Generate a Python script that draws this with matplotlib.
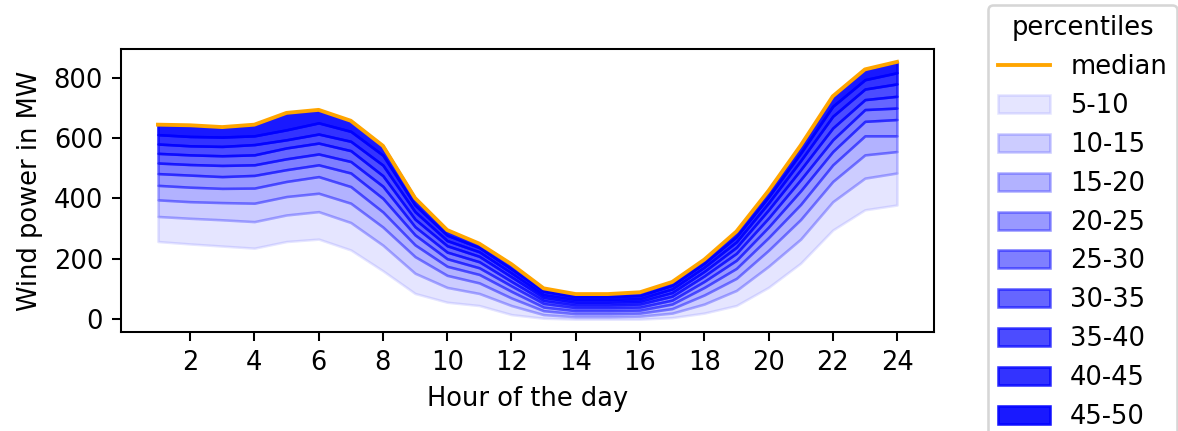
import numpy as np
import matplotlib
matplotlib.use("Agg")
import matplotlib.pyplot as plt

hours = np.arange(1, 25)

# percentile curves (MW)
p5 = [257, 249, 242, 235, 257, 265, 229, 160, 85, 56, 45, 15, 3, 0, 0, 0, 5, 20, 45, 105, 185, 295, 362, 378]
p10 = [340, 334, 329, 323, 345, 356, 320, 245, 152, 105, 85, 45, 15, 8, 8, 10, 20, 50, 95, 175, 265, 389, 467, 484]
p15 = [395, 389, 386, 384, 406, 417, 384, 305, 207, 145, 120, 70, 28, 18, 18, 20, 35, 80, 135, 228, 330, 456, 544, 555]
p20 = [443, 437, 433, 434, 456, 472, 439, 355, 246, 175, 148, 92, 40, 28, 28, 30, 50, 105, 168, 270, 380, 511, 607, 607]
p25 = [482, 477, 472, 476, 495, 511, 484, 400, 279, 200, 170, 110, 52, 38, 38, 40, 63, 125, 195, 305, 425, 555, 655, 661]
p30 = [517, 512, 509, 511, 531, 547, 522, 440, 306, 222, 190, 125, 62, 47, 47, 50, 76, 143, 218, 335, 462, 594, 694, 699]
p35 = [549, 544, 541, 544, 567, 583, 558, 475, 331, 243, 208, 140, 72, 56, 56, 59, 88, 158, 238, 362, 495, 633, 727, 738]
p40 = [580, 574, 572, 578, 594, 613, 589, 510, 356, 260, 223, 153, 81, 65, 65, 68, 100, 172, 256, 385, 525, 672, 762, 779]
p45 = [611, 605, 603, 607, 627, 650, 622, 543, 378, 278, 237, 166, 92, 74, 74, 78, 112, 185, 273, 405, 550, 705, 793, 816]
median = [644, 642, 636, 644, 683, 693, 657, 574, 401, 295, 250, 182, 102, 83, 83, 89, 123, 197, 290, 425, 575, 738, 827, 852]

curves = [p5, p10, p15, p20, p25, p30, p35, p40, p45, median]
band_labels = ["5-10", "10-15", "15-20", "20-25", "25-30", "30-35", "35-40", "40-45", "45-50"]

dpi = 185
fig = plt.figure(figsize=(1178 / dpi, 431 / dpi), dpi=dpi)
ax = fig.add_axes([121 / 1178, 1 - 332 / 431, (934 - 121) / 1178, (332 - 49) / 431])

ax.plot(hours, median, color="orange", label="median", zorder=3)
for i, lab in enumerate(band_labels):
    ax.fill_between(hours, curves[i], curves[i + 1], color="blue",
                    alpha=0.1 * (i + 1), label=lab)

ax.set_xticks(range(2, 25, 2))
ax.set_xlabel("Hour of the day")
ax.set_ylabel("Wind power in MW")

ax.legend(title="percentiles", loc="upper left", borderaxespad=0,
          bbox_to_anchor=(988 / 1178, 1 - 5 / 431), bbox_transform=fig.transFigure)

fig.savefig("out.png", dpi=dpi)
